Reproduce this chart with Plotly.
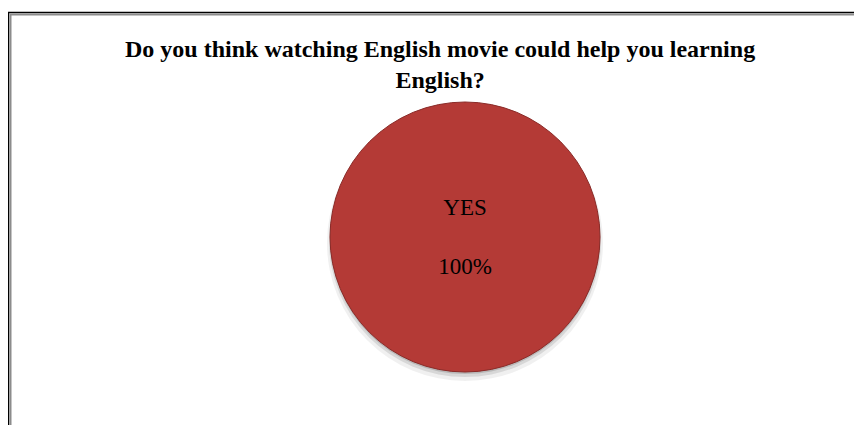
import plotly.graph_objects as go

# Data
categories = ["YES"]
values = [100]
title_text = "Do you think watching English movie could help you learning<br>English?"

W, H = 862, 425
OFF = 8  # page body margin in the browser

def px(x):
    return (x - OFF) / W

def py(y):
    return 1 - (y - OFF) / H

cx, cy, r = 465, 237, 135

fig = go.Figure()
fig.add_trace(go.Pie(
    labels=categories,
    values=values,
    sort=False,
    direction="clockwise",
    textinfo="label+percent",
    texttemplate="%{label}<br><br>%{percent:.0%}",
    textposition="inside",
    insidetextorientation="horizontal",
    insidetextfont=dict(family="Liberation Serif", size=23, color="#000000"),
    marker=dict(colors=["#B43A36"], line=dict(color="#8A2B28", width=1)),
    domain=dict(x=[px(cx - r), px(cx + r)], y=[py(cy + r), py(cy - r)]),
    showlegend=False,
    hoverinfo="label+percent",
))

shapes = []
# soft shadow under the pie
for dy, extra, alpha in [(6, 3, 0.06), (4, 1, 0.10), (2, 0, 0.14)]:
    shapes.append(dict(
        type="circle", xref="paper", yref="paper", layer="below",
        x0=px(cx - r - extra), x1=px(cx + r + extra),
        y0=py(cy + r + dy + extra), y1=py(cy - r + dy - extra),
        fillcolor=f"rgba(0,0,0,{alpha})", line=dict(width=0),
    ))
# chart frame (black with grey inner edge)
shapes.append(dict(type="rect", xref="paper", yref="paper", layer="below",
                   x0=px(8.5), x1=px(880), y0=py(450), y1=py(12.5),
                   line=dict(color="#000000", width=1.5), fillcolor="rgba(0,0,0,0)"))
shapes.append(dict(type="rect", xref="paper", yref="paper", layer="below",
                   x0=px(10.5), x1=px(880), y0=py(450), y1=py(14.5),
                   line=dict(color="#8c8c8c", width=2), fillcolor="rgba(0,0,0,0)"))

fig.update_layout(
    width=W, height=H,
    margin=dict(l=0, r=0, t=0, b=0),
    paper_bgcolor="#FFFFFF",
    plot_bgcolor="#FFFFFF",
    shapes=shapes,
    annotations=[dict(
        text="<b>" + title_text + "</b>",
        xref="paper", yref="paper",
        x=px(440), y=py(34), xanchor="center", yanchor="top",
        showarrow=False,
        font=dict(family="Liberation Serif", size=24, color="#000000"),
    )],
)

fig.write_html("out.html")
